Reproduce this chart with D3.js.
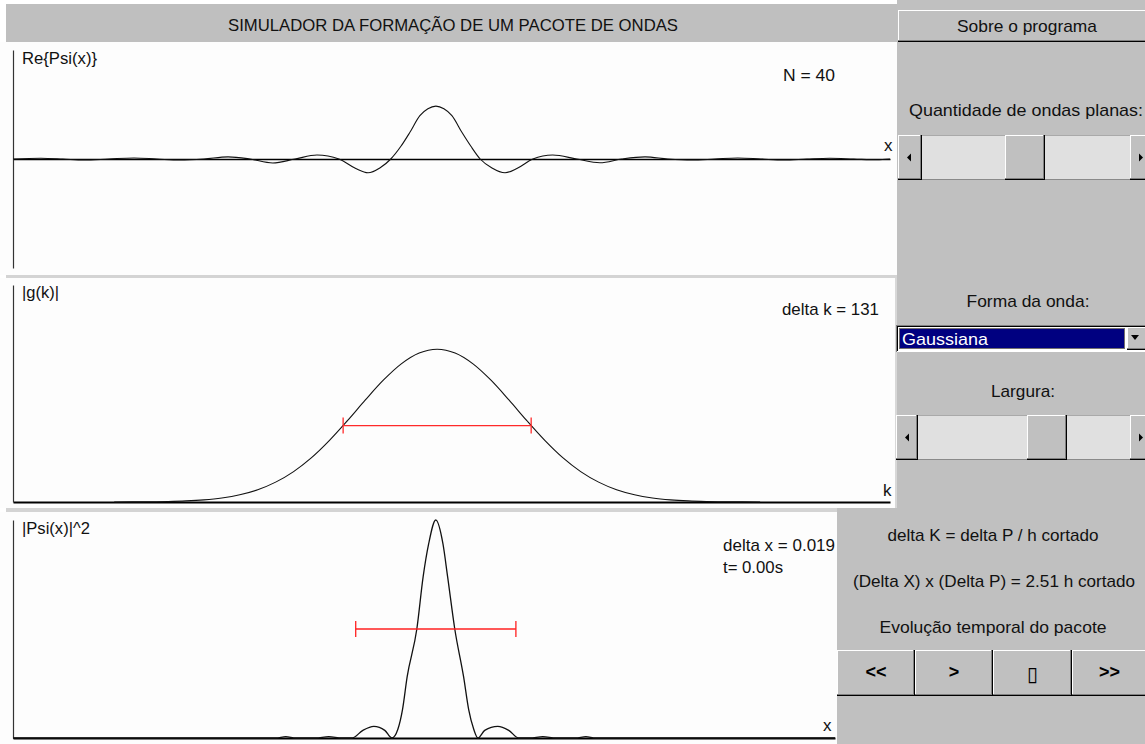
<!DOCTYPE html>
<html><head><meta charset="utf-8">
<script src="https://cdn.jsdelivr.net/npm/d3@7"></script>
<style>
body{margin:0;background:#fff;}
svg{display:block;font-family:"Liberation Sans",Arial,Helvetica,sans-serif;}
</style>
</head><body>
<svg id="c" width="1145" height="744"></svg>
<script>
// ---------------- data ----------------
const titleText = "SIMULADOR DA FORMAÇÃO DE UM PACOTE DE ONDAS";
const nWaves = 40;
const deltaK = 131;
const deltaX = 0.019;
const tSeconds = "0.00";
const uncertaintyProduct = "2.51";
const waveShape = "Gaussiana";
const buttonLabels = ["<<", ">", "\u25AF", ">>"];

// Re{Psi(x)} samples
const psiX = [-0.1003,-0.0937,-0.0885,-0.0835,-0.0776,-0.0716,-0.0662,-0.0607,-0.0550,-0.0493,-0.0441,-0.0387,-0.0334,-0.0282,-0.0230,-0.0190,-0.0161,-0.0133,-0.0107,-0.0083,-0.0062,-0.0038,-0.0019,0,
  0.0019,0.0038,0.0062,0.0083,0.0105,0.0133,0.0164,0.0192,0.0230,0.0277,0.0334,0.0389,0.0441,0.0496,0.0550,0.0607,0.0662,0.0716,0.0771,0.0825,0.0880,0.0934,0.0991,0.1046,0.1077];
const psiRe = [0,0.015,0,-0.02,0,0.02,0,-0.02,0,0.04,0,-0.075,0,0.075,0,-0.18,-0.26,-0.17,0,0.24,0.5,0.82,0.95,1,
  0.95,0.82,0.5,0.24,0,-0.17,-0.26,-0.18,0,0.075,0,-0.07,0,0.04,0,-0.02,0,0.02,0,-0.02,0,0.015,0,-0.015,0];

// |g(k)| samples
const kVals = [-450,-425,-400,-375,-350,-325,-300,-275,-250,-225,-200,-175,-150,-125,-100,-75,-50,-25,0,25,50,75,100,125,150,175,200,225,250,275,300,325,350,375,400,425,450];
const gVals = [0.0003,0.0007,0.0016,0.0034,0.0071,0.0141,0.0265,0.0473,0.0803,0.130,0.199,0.290,0.403,0.532,0.668,0.797,0.904,0.975,1,0.975,0.904,0.797,0.668,0.532,0.403,0.290,0.199,0.130,0.0803,0.0473,0.0265,0.0141,0.0071,0.0034,0.0016,0.0007,0.0003];

// |Psi(x)|^2 samples
const probX = [-0.1003,-0.0379,-0.0356,-0.0332,-0.0285,-0.0254,-0.0223,-0.0199,-0.0173,-0.0147,-0.0121,-0.0104,-0.0090,-0.0079,-0.0068,-0.0045,-0.0030,-0.0017,0,
  0.0017,0.0028,0.0045,0.0066,0.0078,0.0090,0.0100,0.0116,0.0147,0.0173,0.0197,0.0223,0.0254,0.0285,0.0332,0.0356,0.0379,0.0947];
const probVal = [0,0,0.006,0,0,0.006,0,0,0.035,0.053,0.035,0,0.04,0.13,0.28,0.5,0.74,0.89,1,
  0.89,0.74,0.5,0.28,0.13,0.04,0,0.035,0.053,0.035,0,0,0.006,0,0,0.006,0,0];

// ---------------- drawing ----------------
const svg = d3.select("#c");
const GRAY = "#c0c0c0";
const FS = 17;

svg.append("rect").attr("width",1145).attr("height",744).attr("fill","#fff");
// right control column
svg.append("rect").attr("x",897).attr("y",0).attr("width",248).attr("height",744).attr("fill",GRAY);
svg.append("rect").attr("x",837).attr("y",508).attr("width",308).attr("height",236).attr("fill",GRAY);
// title bar
svg.append("rect").attr("x",6).attr("y",4).attr("width",891).attr("height",38).attr("fill","#bfbfbf");

// plot panels
svg.append("rect").attr("x",0).attr("y",42).attr("width",897).attr("height",233).attr("fill","#fdfdfd");
svg.append("rect").attr("x",6).attr("y",275).attr("width",891).attr("height",3).attr("fill","#d4d4d4");
svg.append("rect").attr("x",0).attr("y",278).attr("width",895).attr("height",230).attr("fill","#fdfdfd");
svg.append("rect").attr("x",6).attr("y",508).attr("width",831).attr("height",4).attr("fill","#d4d4d4");
svg.append("rect").attr("x",0).attr("y",512).attr("width",837).attr("height",232).attr("fill","#fdfdfd");
svg.append("rect").attr("x",895).attr("y",278).attr("width",2).attr("height",230).attr("fill","#d8d8d8");

function label(x,y,t,anchor,fill,size,width){
  const el = svg.append("text").attr("x",x).attr("y",y).attr("text-anchor",anchor||"start")
    .attr("font-size",size||FS).attr("fill",fill||"#111").text(t);
  if (width) el.attr("textLength",width).attr("lengthAdjust","spacingAndGlyphs");
  return el;
}

label(453,30.5,titleText,"middle","#111",FS,450);

// ---- Plot 1: Re{Psi(x)}
const x1 = d3.scaleLinear().domain([-0.1003,0.1077]).range([13,890]);
const y1 = d3.scaleLinear().domain([-2.06,2.06]).range([268,50]);
const g1 = svg.append("g");
g1.append("g").attr("transform",`translate(0,${y1(0)})`)
  .call(d3.axisBottom(x1).tickValues([]).tickSizeOuter(0))
  .call(a=>a.select(".domain").attr("stroke","#000").attr("stroke-width",1.3));
g1.append("g").attr("transform",`translate(${x1.range()[0]},0)`)
  .call(d3.axisLeft(y1).tickValues([]).tickSizeOuter(0))
  .call(a=>a.select(".domain").attr("stroke","#333").attr("stroke-width",1.2));
g1.append("path").datum(d3.zip(psiX,psiRe)).attr("fill","none").attr("stroke","#111").attr("stroke-width",1.1)
  .attr("d",d3.line().x(d=>x1(d[0])).y(d=>y1(d[1])).curve(d3.curveMonotoneX));
label(22,64,"Re{Psi(x)}","start","#111",FS,75);
label(783,81,"N = " + nWaves,"start","#111",FS,52);
label(884,151,"x");

// ---- Plot 2: |g(k)|
const x2 = d3.scaleLinear().domain([-591,631]).range([13,890]);
const y2 = d3.scaleLinear().domain([0,1.42]).range([502,285]);
const g2 = svg.append("g");
g2.append("g").attr("transform",`translate(0,${y2(0)})`)
  .call(d3.axisBottom(x2).tickValues([]).tickSizeOuter(0))
  .call(a=>a.select(".domain").attr("stroke","#000").attr("stroke-width",1.8));
g2.append("g").attr("transform",`translate(${x2.range()[0]},0)`)
  .call(d3.axisLeft(y2).tickValues([]).tickSizeOuter(0))
  .call(a=>a.select(".domain").attr("stroke","#333").attr("stroke-width",1.2));
g2.append("path").datum(d3.zip(kVals,gVals)).attr("fill","none").attr("stroke","#111").attr("stroke-width",1.1)
  .attr("d",d3.line().x(d=>x2(d[0])).y(d=>y2(d[1])).curve(d3.curveMonotoneX));
// red width bar at half maximum
const yb2 = y2(0.5);
g2.append("line").attr("x1",x2(-deltaK)).attr("x2",x2(deltaK)).attr("y1",yb2).attr("y2",yb2).attr("stroke","#ff2a2a").attr("stroke-width",1.3);
[-deltaK,deltaK].forEach(k=>g2.append("line").attr("x1",x2(k)).attr("x2",x2(k)).attr("y1",yb2-8).attr("y2",yb2+8).attr("stroke","#ff2a2a").attr("stroke-width",1.3));
label(22,298,"|g(k)|","start","#111",FS,37);
label(879,315,"delta k = " + deltaK,"end","#111",FS,97);
label(883,496,"k");

// ---- Plot 3: |Psi(x)|^2
const x3 = d3.scaleLinear().domain([-0.1003,0.0947]).range([13,835]);
const y3 = d3.scaleLinear().domain([0,1]).range([738,520]);
const g3 = svg.append("g");
g3.append("g").attr("transform",`translate(0,${y3(0)})`)
  .call(d3.axisBottom(x3).tickValues([]).tickSizeOuter(0))
  .call(a=>a.select(".domain").attr("stroke","#000").attr("stroke-width",1.8));
g3.append("g").attr("transform",`translate(${x3.range()[0]},0)`)
  .call(d3.axisLeft(y3).tickValues([]).tickSizeOuter(0))
  .call(a=>a.select(".domain").attr("stroke","#333").attr("stroke-width",1.2));
g3.append("path").datum(d3.zip(probX,probVal)).attr("fill","none").attr("stroke","#111").attr("stroke-width",1.3)
  .attr("d",d3.line().x(d=>x3(d[0])).y(d=>y3(d[1])).curve(d3.curveMonotoneX));
const yb3 = y3(0.5);
g3.append("line").attr("x1",x3(-deltaX)).attr("x2",x3(deltaX)).attr("y1",yb3).attr("y2",yb3).attr("stroke","#ff2020").attr("stroke-width",1.3);
[-deltaX,deltaX].forEach(v=>g3.append("line").attr("x1",x3(v)).attr("x2",x3(v)).attr("y1",yb3-8).attr("y2",yb3+8).attr("stroke","#ff2020").attr("stroke-width",1.3));
label(22,534,"|Psi(x)|^2","start","#111",FS,68);
label(723,551,"delta x = " + deltaX,"start","#111",FS,112);
label(723,573,"t= " + tSeconds + "s","start","#111",FS,60);
label(823,731,"x");

// ---------------- controls ----------------
function bevel(x,y,w,h){
  const g = svg.append("g");
  g.append("rect").attr("x",x).attr("y",y).attr("width",w).attr("height",h).attr("fill",GRAY);
  g.append("line").attr("x1",x).attr("x2",x+w).attr("y1",y+0.5).attr("y2",y+0.5).attr("stroke","#fff");
  g.append("line").attr("x1",x+0.5).attr("x2",x+0.5).attr("y1",y).attr("y2",y+h).attr("stroke","#fff");
  g.append("line").attr("x1",x).attr("x2",x+w).attr("y1",y+h-1.5).attr("y2",y+h-1.5).attr("stroke","#808080");
  g.append("line").attr("x1",x+w-1.5).attr("x2",x+w-1.5).attr("y1",y).attr("y2",y+h).attr("stroke","#808080");
  g.append("line").attr("x1",x).attr("x2",x+w).attr("y1",y+h-0.5).attr("y2",y+h-0.5).attr("stroke","#000");
  g.append("line").attr("x1",x+w-0.5).attr("x2",x+w-0.5).attr("y1",y).attr("y2",y+h).attr("stroke","#000");
  return g;
}
function scrollbar(x0,y0,h,lb,thumb0,thumb1,rb){
  svg.append("rect").attr("x",x0).attr("y",y0).attr("width",1145-x0).attr("height",h).attr("fill","#e0e0e0");
  svg.append("line").attr("x1",x0).attr("x2",1145).attr("y1",y0+0.5).attr("y2",y0+0.5).attr("stroke","#a9a9a9");
  svg.append("line").attr("x1",x0).attr("x2",1145).attr("y1",y0+h-0.5).attr("y2",y0+h-0.5).attr("stroke","#8a8a8a");
  bevel(x0,y0,lb-x0,h);
  bevel(thumb0,y0,thumb1-thumb0,h);
  bevel(rb,y0,1150-rb,h);
  const cy = y0+h/2;
  svg.append("path").attr("d",`M${x0+9},${cy}L${x0+13},${cy-4}L${x0+13},${cy+4}Z`).attr("fill","#000");
  svg.append("path").attr("d",`M${rb+9},${cy-4}L${rb+13},${cy}L${rb+9},${cy+4}Z`).attr("fill","#000");
}

// "Sobre o programa"
bevel(898,10,252,32);
label(1027,32,"Sobre o programa","middle","#111",FS,140);
label(1026,116,"Quantidade de ondas planas:","middle","#111",FS,234);
scrollbar(898,135,45,922,1005,1045,1130);

label(1028,307,"Forma da onda:","middle","#111",FS,123);
// dropdown
svg.append("rect").attr("x",896).attr("y",325).attr("width",249).attr("height",27).attr("fill","#fff");
svg.append("line").attr("x1",896).attr("x2",1145).attr("y1",325.5).attr("y2",325.5).attr("stroke","#808080");
svg.append("line").attr("x1",896.5).attr("x2",896.5).attr("y1",325).attr("y2",352).attr("stroke","#808080");
svg.append("line").attr("x1",897).attr("x2",1145).attr("y1",326.5).attr("y2",326.5).attr("stroke","#000");
svg.append("line").attr("x1",897.5).attr("x2",897.5).attr("y1",326).attr("y2",351).attr("stroke","#000");
svg.append("rect").attr("x",899).attr("y",328).attr("width",226).attr("height",21).attr("fill","#000080");
svg.append("rect").attr("x",899.5).attr("y",328.5).attr("width",225).attr("height",20).attr("fill","none")
  .attr("stroke","#e8e060").attr("stroke-dasharray","1,1");
label(902,345,waveShape,"start","#fff",FS,86);
bevel(1127,327,20,23);
svg.append("path").attr("d","M1131,335L1139,335L1135,340Z").attr("fill","#000");

label(1023,397,"Largura:","middle","#111",FS,64);
scrollbar(896,415,45,918,1027,1067,1130);

label(993,541,"delta K = delta P / h cortado","middle","#111",FS,211);
label(994,587,"(Delta X) x (Delta P) = " + uncertaintyProduct + " h cortado","middle","#111",FS,282);
label(993,633,"Evolução temporal do pacote","middle","#111",FS,227);

const btnEdges = [837,915,993,1072,1148];
buttonLabels.forEach((t,i)=>{
  bevel(btnEdges[i],650,btnEdges[i+1]-btnEdges[i],46);
  const isBox = t === "\u25AF";
  label((btnEdges[i]+Math.min(btnEdges[i+1],1147))/2, isBox ? 681 : 678, t, "middle", "#000", isBox ? 20 : 18)
    .attr("font-family", isBox ? "DejaVu Sans" : null)
    .attr("font-weight", isBox ? "normal" : "bold");
});
</script>
</body></html>
